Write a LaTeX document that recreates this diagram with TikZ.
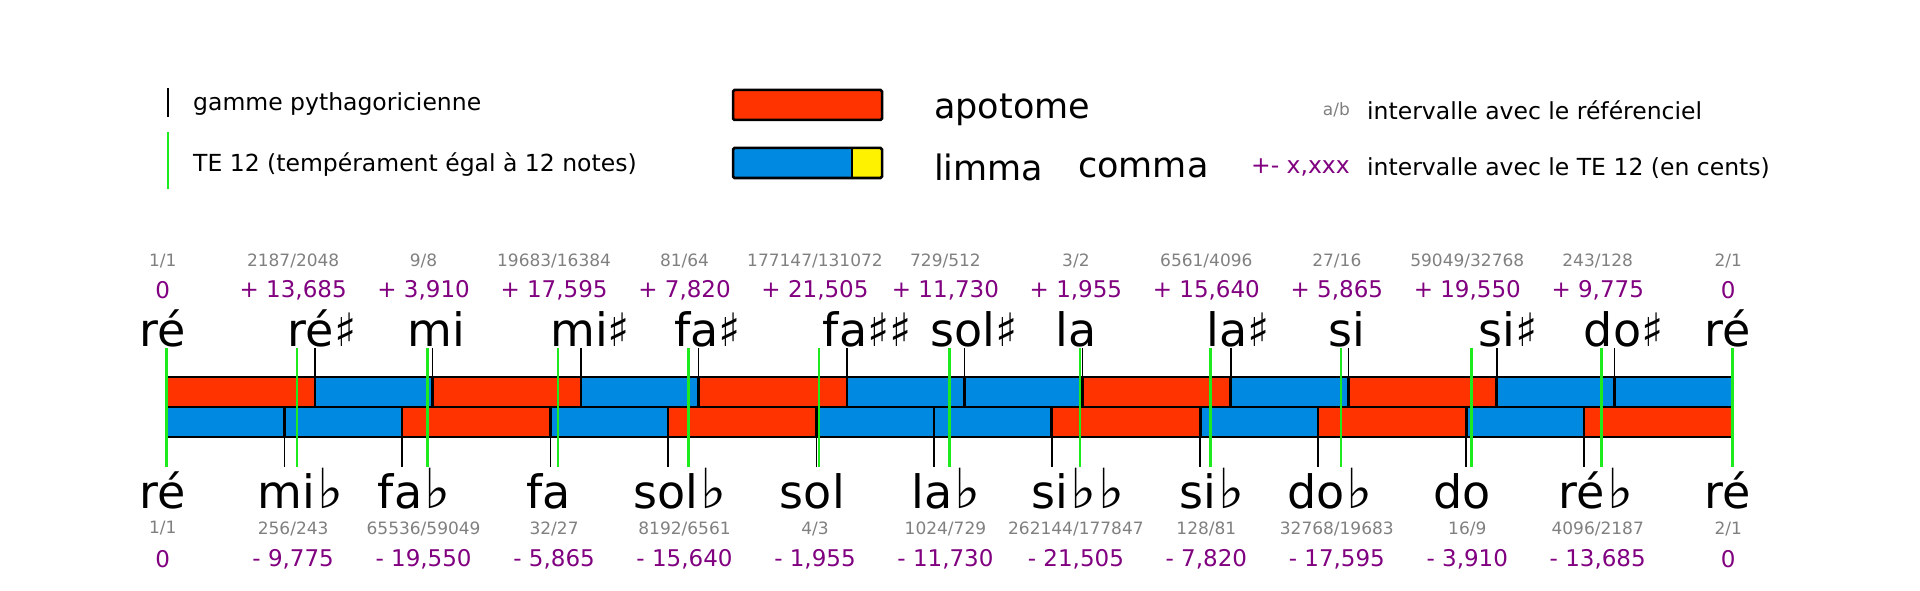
\documentclass[tikz,border=0pt]{standalone}
\usepackage{fontspec}
\setmainfont{DejaVu Sans}
\usetikzlibrary{positioning}
\definecolor{apotomeRed}{HTML}{FF3300}
\definecolor{limmaBlue}{HTML}{0089E0}
\definecolor{commaYellow}{HTML}{FFF200}
\definecolor{centsPurple}{HTML}{800080}
\definecolor{ratioGray}{HTML}{808080}
\definecolor{teGreen}{HTML}{1EEB1E}
\newcommand{\fsize}[1]{\fontsize{#1}{#1}\selectfont}
\newcommand{\bemol}{\hspace{2pt}\scalebox{1.2}{♭}}
\tikzset{
	noteName/.style={font=\fsize{46}, inner sep=0pt, anchor=base},
	ratioLbl/.style={font=\fsize{17}, text=ratioGray, inner sep=0pt},
	centsLbl/.style={font=\fsize{23}, text=centsPurple, inner sep=0pt},
	legendTxt/.style={font=\fsize{23.5}, inner sep=0pt, anchor=west},
	bigTxt/.style={font=\fsize{35}, inner sep=0pt, anchor=west},
	seg/.style={draw=black, line width=2.7pt},
	pythTick/.style={black, line width=1.5pt},
	teTick/.style={teGreen, line width=2.6pt},
}

\begin{document}
\begin{tikzpicture}[x=1pt, y=-1pt]
\useasboundingbox (0,0) rectangle (1920,591);
\pgfmathsetmacro{\barX}{166.7}
\pgfmathsetmacro{\barL}{1565.5}
\pgfmathsetmacro{\rowTop}{377}
\pgfmathsetmacro{\rowMid}{407}
\pgfmathsetmacro{\rowBot}{437}

% Draw legend
\draw[pythTick] (168,88) -- (168,117);
\draw[teTick] (168,132) -- (168,189);
\node[legendTxt] (lgPyth) at (193,104) {gamme pythagoricienne};
\node[legendTxt] (lgTE) at (193,165) {TE 12 (tempérament égal à 12 notes)};

\draw[fill=apotomeRed, line width=2.5pt, rounded corners=1.5pt] (733,90) rectangle (882,120);
\fill[limmaBlue] (733,148) rectangle (852,178);
\fill[commaYellow] (852,148) rectangle (882,178);
\draw[line width=2.5pt, rounded corners=1.5pt] (733,148) rectangle (882,178);
\draw[line width=2.5pt] (852,148) -- (852,178);
\node[bigTxt] (lgApo) at (934,109.5) {apotome};
\node[bigTxt] (lgLim) at (934,167.5) {limma};
\node[bigTxt] (lgCom) at (1078,167.5) {comma};

\node[ratioLbl, anchor=east] (lgRatio) at (1350,110) {a/b};
\node[legendTxt] (lgRatioTxt) at (1367,110) {intervalle avec le référenciel};
\node[centsLbl, anchor=east, font=\fsize{23.5}] (lgCents) at (1350,167.5) {+- x,xxx};
\node[legendTxt] (lgCentsTxt) at (1367,168) {intervalle avec le TE 12 (en cents)};

% Draw upper row (sharps)
\foreach \a/\b/\col in {0/113.685/apotomeRed, 113.685/203.910/limmaBlue,
	203.910/317.595/apotomeRed, 317.595/407.820/limmaBlue,
	407.820/521.505/apotomeRed, 521.505/611.730/limmaBlue,
	611.730/701.955/limmaBlue, 701.955/815.640/apotomeRed,
	815.640/905.865/limmaBlue, 905.865/1019.550/apotomeRed,
	1019.550/1109.775/limmaBlue, 1109.775/1200/limmaBlue}
	\draw[seg, fill=\col] ({\barX+\a/1200*\barL},\rowTop) rectangle ({\barX+\b/1200*\barL},\rowMid);

% Draw lower row (flats)
\foreach \a/\b/\col in {0/90.225/limmaBlue, 90.225/180.450/limmaBlue,
	180.450/294.135/apotomeRed, 294.135/384.360/limmaBlue,
	384.360/498.045/apotomeRed, 498.045/588.270/limmaBlue,
	588.270/678.495/limmaBlue, 678.495/792.180/apotomeRed,
	792.180/882.405/limmaBlue, 882.405/996.090/apotomeRed,
	996.090/1086.315/limmaBlue, 1086.315/1200/apotomeRed}
	\draw[seg, fill=\col] ({\barX+\a/1200*\barL},\rowMid) rectangle ({\barX+\b/1200*\barL},\rowBot);

% Upper notes, ratios and cents
\foreach \k/\c/\dx/\nom/\acc/\rap/\ec in {0/0/-4/ré//{1/1}/0,
	1/113.685/-4/ré/♯/{2187/2048}/{+ 13,685},
	2/203.910/4/mi//{9/8}/{+ 3,910},
	3/317.595/-2/mi/♯/{19683/16384}/{+ 17,595},
	4/407.820/-2/fa/♯/{81/64}/{+ 7,820},
	5/521.505/-2/fa/♯♯/{177147/131072}/{+ 21,505},
	6/611.730/-2/sol/♯/{729/512}/{+ 11,730},
	7/701.955/-6/la//{3/2}/{+ 1,955},
	8/815.640/-4/la/♯/{6561/4096}/{+ 15,640},
	9/905.865/-2/si//{27/16}/{+ 5,865},
	10/1019.550/0/si/♯/{59049/32768}/{+ 19,550},
	11/1109.775/-2/do/♯/{243/128}/{+ 9,775},
	12/1200/-5/ré//{2/1}/0}{
	\draw[pythTick] ({\barX+\c/1200*\barL},348) -- ({\barX+\c/1200*\barL},\rowTop);
	\node[noteName] (up\k) at ({\barX+\c/1200*\barL+\dx},346) {\nom\rlap{\acc}};
	\node[ratioLbl] (upr\k) at ({\barX+\k/12*\barL-4},261) {\rap};
	\node[centsLbl] (upc\k) at ({\barX+\k/12*\barL-4},290) {\ec};
}

% Lower notes, ratios and cents
\foreach \k/\c/\dx/\nom/\acc/\rap/\ec in {0/0/-4/ré//{1/1}/0,
	1/90.225/2/mi/\bemol/{256/243}/{- 9,775},
	2/180.450/-2/fa/\bemol/{65536/59049}/{- 19,550},
	3/294.135/-2/fa//{32/27}/{- 5,865},
	4/384.360/-2/sol/\bemol/{8192/6561}/{- 15,640},
	5/498.045/-4/sol//{4/3}/{- 1,955},
	6/588.270/-2/la/\bemol/{1024/729}/{- 11,730},
	7/678.495/-2/si/\bemol\bemol/{262144/177847}/{- 21,505},
	8/792.180/-2/si/\bemol/{128/81}/{- 7,820},
	9/882.405/-2/do/\bemol/{32768/19683}/{- 17,595},
	10/996.090/-4/do//{16/9}/{- 3,910},
	11/1086.315/-2/ré/\bemol/{4096/2187}/{- 13,685},
	12/1200/-5/ré//{2/1}/0}{
	\draw[pythTick] ({\barX+\c/1200*\barL},\rowBot) -- ({\barX+\c/1200*\barL},467);
	\node[noteName] (lo\k) at ({\barX+\c/1200*\barL+\dx},508) {\nom\rlap{\acc}};
	\node[ratioLbl] (lor\k) at ({\barX+\k/12*\barL-4},528.5) {\rap};
	\node[centsLbl] (loc\k) at ({\barX+\k/12*\barL-4},559.5) {\ec};
}

% Draw TE 12 lines
\foreach \k in {0,...,12}
	\draw[teTick] ({\barX+\k/12*\barL},348) -- ({\barX+\k/12*\barL},467);
\end{tikzpicture}
\end{document}
